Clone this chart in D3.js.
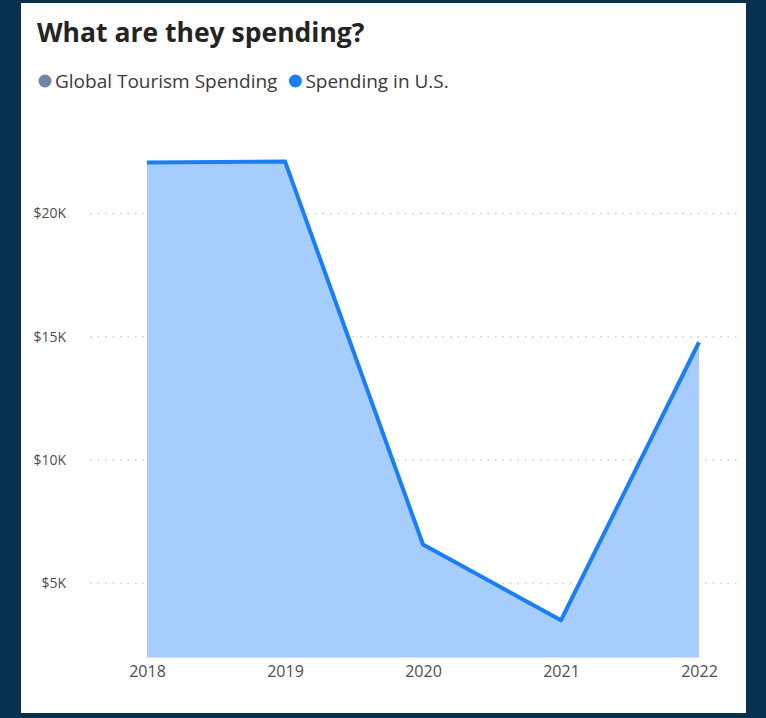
<!DOCTYPE html>
<html>
<head>
<meta charset="utf-8">
<script src="https://cdn.jsdelivr.net/npm/d3@7"></script>
<style>
  html, body { margin: 0; padding: 0; background: #06304b; }
  svg { display: block; }
</style>
</head>
<body>
<svg id="chart" width="766" height="718"></svg>
<script>
// Yearly spending in the U.S.
const years = ["2018", "2019", "2020", "2021", "2022"];
const usSpending = [22070, 22110, 6580, 3510, 14780];
const yTicks = [5000, 10000, 15000, 20000];
const tickLabels = ["$5K", "$10K", "$15K", "$20K"];
const legendItems = ["Global Tourism Spending", "Spending in U.S."];
const legendColors = ["#6e86a3", "#1a7ef7"];

const svg = d3.select("#chart");
const font = "'Open Sans', 'Noto Sans', sans-serif";

// white card
svg.append("rect")
  .attr("x", 21).attr("y", 3)
  .attr("width", 725).attr("height", 710)
  .attr("fill", "#ffffff");

// title
svg.append("text")
  .attr("x", 37).attr("y", 42)
  .attr("font-family", font)
  .attr("font-weight", 700)
  .attr("font-size", 26.5)
  .attr("fill", "#252423")
  .text("What are they spending?");

// legend
let lx = 45;
const legend = svg.append("g");
legendItems.forEach((name, i) => {
  legend.append("circle")
    .attr("cx", lx).attr("cy", 81).attr("r", 6.5)
    .attr("fill", legendColors[i]);
  const t = legend.append("text")
    .attr("x", lx + 10).attr("y", 88)
    .attr("font-family", font)
    .attr("font-size", 19)
    .attr("fill", "#3b3a39")
    .text(name);
  lx += 10 + t.node().getComputedTextLength() + 18;
});

// scales
const x = d3.scalePoint().domain(years).range([147, 699]);
const y = d3.scaleLinear().domain([2000, 24000]).range([657.5, 114.8]);

// dotted gridlines
svg.append("g")
  .selectAll("line")
  .data(yTicks)
  .join("line")
  .attr("x1", 90).attr("x2", 742)
  .attr("y1", d => y(d)).attr("y2", d => y(d))
  .attr("stroke", "#cfcfcf")
  .attr("stroke-width", 1.5)
  .attr("stroke-dasharray", "1.5,6");

// y axis labels
const yAxis = d3.axisLeft(y).tickValues(yTicks)
  .tickFormat((d, i) => tickLabels[i]).tickSize(0).tickPadding(0);
svg.append("g")
  .attr("transform", "translate(66,0)")
  .call(yAxis)
  .call(g => g.select(".domain").remove())
  .call(g => g.selectAll("text")
    .attr("font-family", font)
    .attr("font-size", 14)
    .attr("fill", "#4f4e4c"));

// x axis labels
const xAxis = d3.axisBottom(x).tickSize(0).tickPadding(0);
svg.append("g")
  .attr("transform", "translate(0,666)")
  .call(xAxis)
  .call(g => g.select(".domain").remove())
  .call(g => g.selectAll("text")
    .attr("font-family", font)
    .attr("font-size", 16)
    .attr("fill", "#4f4e4c"));

const data = years.map((yr, i) => ({ yr, v: usSpending[i] }));

// area
svg.append("path")
  .datum(data)
  .attr("fill", "#a7cdfd")
  .attr("d", d3.area()
    .x(d => x(d.yr))
    .y0(y.range()[0])
    .y1(d => y(d.v)));

// line
svg.append("path")
  .datum(data)
  .attr("fill", "none")
  .attr("stroke", "#1a7ef7")
  .attr("stroke-width", 4)
  .attr("stroke-linejoin", "round")
  .attr("d", d3.line()
    .x(d => x(d.yr))
    .y(d => y(d.v)));
</script>
</body>
</html>
